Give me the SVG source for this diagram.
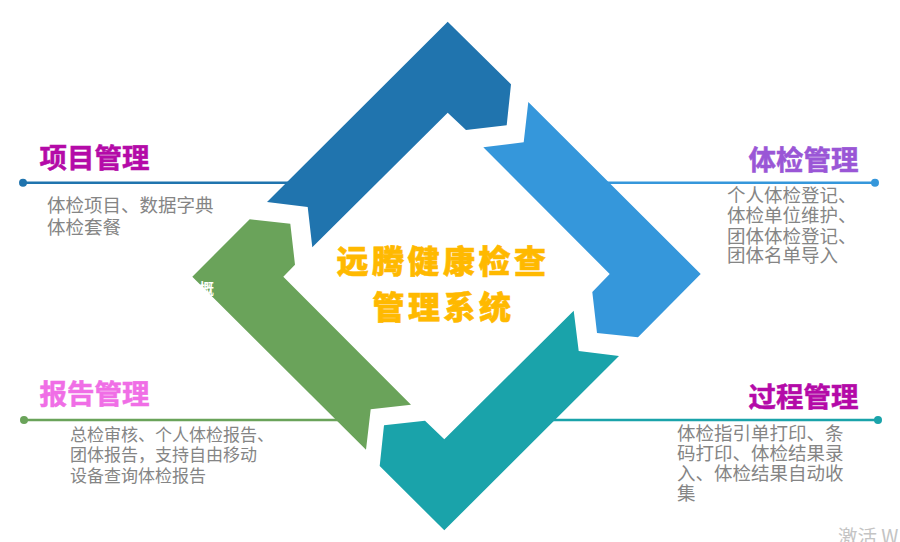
<svg xmlns="http://www.w3.org/2000/svg" width="900" height="542" viewBox="0 0 900 542">
<style>
text{font-family:"Noto Sans CJK SC","Noto Sans",sans-serif}
.t{font-size:27.5px;font-weight:700;stroke-width:.5px}
.b{font-size:18.5px;fill:#858585}
.r{font-size:17px}
.c{font-size:32px;font-weight:900;fill:#ffb900;stroke:#ffb900;stroke-width:.6px;letter-spacing:3.5px;text-anchor:middle}
.l{stroke-width:2.5;fill:none}
</style>
<rect width="900" height="542" fill="#fff"/>
<g id="connectors">
<line class="l" x1="23" y1="182.7" x2="290" y2="182.7" stroke="#2074ae"/><circle cx="23" cy="182.7" r="4" fill="#2074ae"/>
<line class="l" x1="600" y1="182.7" x2="875" y2="182.7" stroke="#3597db"/><circle cx="875" cy="182.7" r="4" fill="#3597db"/>
<line class="l" x1="24" y1="420" x2="345" y2="420" stroke="#6aa35a"/><circle cx="24" cy="420" r="4" fill="#6aa35a"/>
<line class="l" x1="550" y1="420" x2="878" y2="420" stroke="#1aa3aa"/><circle cx="878" cy="420" r="4" fill="#1aa3aa"/>
</g>
<g id="arrow-project"><polygon fill="#2074ae" points="447.7,21.7 511,84.3 506.7,125.3 466,130 447.7,112.7 312.3,247.3 307.7,207 267,202"/></g>
<g id="arrow-exam"><polygon fill="#3597db" points="528.3,102 700.7,274 638,337.3 597,333 592.3,292 609.7,274 483.3,147.3 523.7,142.3"/></g>
<g id="arrow-process"><polygon fill="#1aa3aa" points="573.7,310.7 578.7,351 619,356 444.3,530.3 379.7,466 384,425.3 425,420.7 444.3,439.3"/></g>
<g id="arrow-report"><polygon fill="#6aa35a" points="249.7,219.3 290.3,223.7 295,264.7 283.3,276.7 411,404.7 370.7,409.3 366,449.7 192.3,276.7"/>
<text x="199.5" y="293.5" font-size="14.5" font-weight="700" fill="#fff">概</text></g>
<g id="center">
<text class="c" x="443" y="273">远腾健康检查</text>
<text class="c" x="443.5" y="319">管理系统</text>
</g>
<g id="node-project">
<text class="t" x="39.5" y="168" fill="#b40aa8" stroke="#b40aa8">项目管理</text>
<text class="b" x="47" y="212">体检项目、数据字典</text>
<text class="b" x="47" y="234">体检套餐</text>
</g>
<g id="node-exam">
<text class="t" x="748.5" y="170" fill="#9a56d6" stroke="#9a56d6">体检管理</text>
<text class="b" x="727" y="202">个人体检登记、</text>
<text class="b" x="727" y="222">体检单位维护、</text>
<text class="b" x="727" y="243">团体体检登记、</text>
<text class="b" x="727" y="262">团体名单导入</text>
</g>
<g id="node-report">
<text class="t" x="39.5" y="404" fill="#f06ee6" stroke="#f06ee6">报告管理</text>
<text class="b r" x="70" y="441">总检审核、个人体检报告、</text>
<text class="b r" x="70" y="461">团体报告，支持自由移动</text>
<text class="b r" x="70" y="482">设备查询体检报告</text>
</g>
<g id="node-process">
<text class="t" x="748.5" y="407" fill="#b40aa8" stroke="#b40aa8">过程管理</text>
<text class="b" x="677" y="440">体检指引单打印、条</text>
<text class="b" x="677" y="460">码打印、体检结果录</text>
<text class="b" x="677" y="480">入、体检结果自动收</text>
<text class="b" x="677" y="500">集</text>
</g>
<text x="838" y="544" font-size="19.5" fill="#c4c4c4">激活 W</text>
</svg>
